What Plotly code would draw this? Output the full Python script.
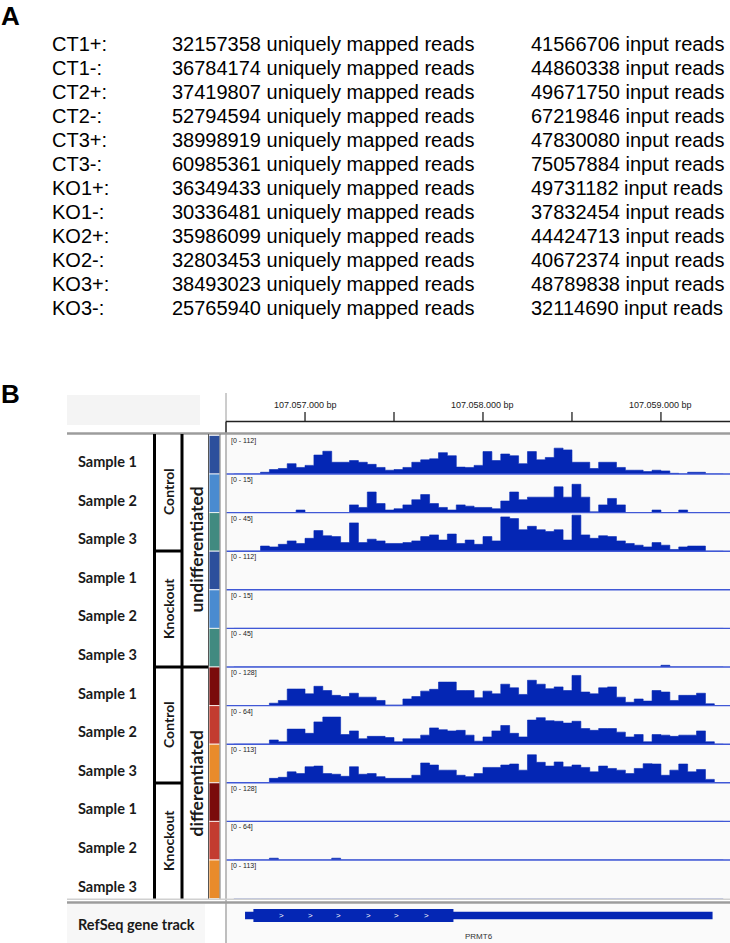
import plotly.graph_objects as go

# ---------------- Panel A data ----------------
samples = ["CT1+:", "CT1-:", "CT2+:", "CT2-:", "CT3+:", "CT3-:",
           "KO1+:", "KO1-:", "KO2+:", "KO2-:", "KO3+:", "KO3-:"]
unique_reads = [32157358, 36784174, 37419807, 52794594, 38998919, 60985361,
                36349433, 30336481, 35986099, 32803453, 38493023, 25765940]
input_reads = [41566706, 44860338, 49671750, 67219846, 47830080, 75057884,
               49731182, 37832454, 44424713, 40672374, 48789838, 32114690]

# ---------------- Panel B data ----------------
track_names = ["Sample 1", "Sample 2", "Sample 3"] * 4
data_ranges = [112, 15, 45, 112, 15, 45, 128, 64, 113, 128, 64, 113]
bin_start = 107056600
bin_size = 50

ctl_undiff_1 = [0,0,0,5,13,16,30,19,25,55, 66,34,34,39,34,28,19,11,13,19, 34,41,44,62,53,20,19,25,65,39,
                58,53,30,65,41,48,75,70,34,34, 16,34,34,19,11,11,7,11,9,2, 0,5,5,0,0]
ctl_undiff_2 = [0,0,0,0,0,0,0,1,0,0, 0,0,0,3,2,8,3.5,1,1.5,3, 5,7,3.5,2,1,3,2.5,2,2,1.5,
                4.5,8,5,6,6,6,10,6,11,6, 0.3,3,5.5,3,0,0,0,1,0,0, 1,0,0,0,0]
ctl_undiff_3 = [0,0,0,6,5,8,12,9,15,24, 18,17,10,33,10,14,12,9,9,10, 12,17,19,13,20,9,13,8,17,12,
                40,38,25,29,25,23,25,13,42,19, 15,18,17,12,9,7,5,10,7,2, 5,6,6,0,0]
ko_undiff_1 = [0,0,0,0,0,0,0,0,0,0, 0,0,0,0,0,0,0,0,0,0, 0,0,0,0,0,0,0,0,0,0,
               0,0,0,0,0,0,0,0,0,0, 0,0,0,0,0,0,0,0,0,0, 0,0,0,0,0]
ko_undiff_2 = [0,0,0,0,0,0,0,0,0,0, 0,0,0,0,0,0,0,0,0,0, 0,0,0,0,0,0,0,0,0,0,
               0,0,0,0,0,0,0,0,0,0, 0,0,0,0,0,0,0,0,0,0, 0,0,0,0,0]
ko_undiff_3 = [0,0,0,0,0,0,0,0,0,0, 0,0,0,0,0,0,0,0,0,0, 0,0,0,0,0,0,0,0,0,0,
               0,0,0,0,0,0,0,0,0,0, 0,0,0,0,0,0,0,0,2,0, 0,0,0,0,0]
ctl_diff_1 = [0,0,0,0,8,17,55,55,39,64, 50,34,30,41,28,28,17,2,2,22, 30,48,54,78,78,50,50,26,48,39,
              71,59,37,84,71,56,62,50,100,45, 39,59,62,28,11,22,15,50,45,17, 34,34,41,6,0]
ctl_diff_2 = [0,0,0,0,7,4,25,25,18,37, 45,45,16,22,9,13,13,11,4,9, 9,15,27,24,22,23,15,5,12,22,
              31,18,12,40,44,39,38,35,38,26, 23,26,26,20,12,16,4,16,15,13, 15,15,22,4,0]
ctl_diff_3 = [0,0,0,0,13,16,32,27,47,49, 27,25,19,47,25,27,18,13,13,13, 22,58,52,37,37,22,18,27,45,45,
              52,55,37,82,60,49,61,47,52,45, 32,49,42,37,27,42,56,55,22,37, 55,32,39,10,0]
ko_diff_1 = [0,0,0,0,0,0,0,0,0,0, 0,0,0,0,0,0,0,0,0,0, 0,0,0,0,0,0,0,0,0,0,
             0,0,0,0,0,0,0,0,0,0, 0,0,0,0,0,0,0,0,0,0, 0,0,0,0,0]
ko_diff_2 = [0,0,0,0,3,0,0,0,0,0, 0,3,0,0,0,0,0,0,0,0, 0,0,0,0,0,0,0,0,0,0,
             0,0,0,0,0,0,0,0,0,0, 0,0,0,0,0,0,0,0,0,0, 0,0,0,0,0]
ko_diff_3 = [0,0,0,0,0,0,0,0,0,0, 0,0,0,0,0,0,0,0,0,0, 0,0,0,0,0,0,0,0,0,0,
             0,0,0,0,0,0,0,0,0,0, 0,0,0,0,0,0,0,0,0,0, 0,0,0,0,0]
tracks = [ctl_undiff_1, ctl_undiff_2, ctl_undiff_3, ko_undiff_1, ko_undiff_2, ko_undiff_3,
          ctl_diff_1, ctl_diff_2, ctl_diff_3, ko_diff_1, ko_diff_2, ko_diff_3]

ruler_ticks = [107057000, 107057500, 107058000, 107058500, 107059000]
ruler_labels = {107057000: "107.057.000 bp", 107058000: "107.058.000 bp", 107059000: "107.059.000 bp"}
view_start, view_end = 107056556, 107059388
gene_name = "PRMT6"
gene_start, gene_end = 107056663, 107059290
cds_start, cds_end = 107056710, 107057834
chevron_pos = [107056869, 107057028, 107057187, 107057356, 107057515, 107057684]

# ---------------- layout helpers ----------------
W, H = 730, 943
def X(px): return px / W
def Y(py): return 1 - py / H

BLUE = "#0426b4"
LINE_BLUE = "#4058d6"
TEXT_FONT = "Liberation Sans"
LABEL_FONT = "Lato"

fig = go.Figure()
shapes = []
ann = []

def rect(x0, y0, x1, y1, fill, line_color=None, lw=0, layer="below"):
    shapes.append(dict(type="rect", xref="paper", yref="paper", x0=X(x0), x1=X(x1), y0=Y(y1), y1=Y(y0),
                       fillcolor=fill, line=dict(width=lw, color=line_color or fill), layer=layer))

def line(x0, y0, x1, y1, color, w):
    shapes.append(dict(type="line", xref="paper", yref="paper", x0=X(x0), x1=X(x1), y0=Y(y0), y1=Y(y1),
                       line=dict(color=color, width=w), layer="above"))

def text(t, x, y, size, family=TEXT_FONT, color="black", xanchor="left", angle=0, xref="paper", yanchor="middle"):
    ann.append(dict(text=t, x=(x if xref == "x" else X(x)), y=Y(y), xref=xref, yref="paper",
                    xanchor=xanchor, yanchor=yanchor, showarrow=False, textangle=angle,
                    font=dict(size=size, family=family, color=color), borderpad=0))

# ---------------- Panel A ----------------
text("<b>A</b>", 0, 0, 26, yanchor="top")
for i, (s, u, r) in enumerate(zip(samples, unique_reads, input_reads)):
    yc = 44 + 24 * i
    text(s, 51, yc, 20)
    text(f"{u} uniquely mapped reads", 171, yc, 20)
    text(f"{r} input reads", 530, yc, 20)

# ---------------- Panel B ----------------
text("<b>B</b>", 0, 394, 26)

# header
rect(67, 395, 200, 425, "#f4f4f4")
line(226, 393, 226, 421.5, "#9a9a9a", 1)
line(226, 421.5, 730, 421.5, "#222", 1.5)
line(226, 421.5, 226, 433, "#222", 1.5)
for g in ruler_ticks:
    shapes.append(dict(type="line", xref="x", yref="paper", x0=g, x1=g, y0=Y(412), y1=Y(421.5),
                       line=dict(color="#222", width=1.3), layer="above"))
    if g in ruler_labels:
        text(ruler_labels[g], g, 405, 9, color="#222", xanchor="center", xref="x")

# data area
rect(226, 434, 730, 898.6, "#fafafa")
TRACK_H = 38.6
first_bottom = 474.0
bar_colors = ["#2c4f9c", "#4a8bd0", "#418a80"] * 2 + ["#7a0b0b", "#c33c30", "#e98b2b"] * 2

for k, vals in enumerate(tracks):
    bottom = first_bottom + TRACK_H * k
    top = bottom - TRACK_H
    xs = [bin_start + bin_size * i for i in range(len(vals) + 1)]
    ys = list(vals) + [vals[-1]]
    yname = "y" if k == 0 else f"y{k+1}"
    fig.add_trace(go.Scatter(x=xs, y=ys, mode="lines", line=dict(shape="hv", width=0.6, color=BLUE),
                             fill="tozeroy", fillcolor=BLUE, xaxis="x", yaxis=yname,
                             showlegend=False, hoverinfo="skip"))
    fig.layout[f"yaxis{k+1}" if k else "yaxis"] = dict(domain=[Y(bottom), Y(top)], range=[0, data_ranges[k]],
                                                     visible=False, fixedrange=True, anchor="x")
    if k < 11:
        line(226, bottom, 730, bottom, LINE_BLUE, 1.4)
    text(f"[0 - {data_ranges[k]}]", 229.5, top + 6, 7, color="#222")
    rect(209, top, 220, bottom, bar_colors[k], "white", 0.8, layer="above")
    text(f"<b>{track_names[k]}</b>", 107, top + 26, 14.5, family=LABEL_FONT, color="#1a1a1a", xanchor="center")

line(226, 433, 226, 943, "#a8a8a8", 1.5)
line(67, 433.5, 730, 433.5, "#9c9c9c", 2.5)

# group columns
for xv in (154.5, 182):
    line(xv, 434, xv, 899, "#000", 3)
line(154.5, 551, 182, 551, "#000", 3)
line(154.5, 667, 209, 667, "#000", 3)
line(154.5, 783, 182, 783, "#000", 3)
line(208.5, 434, 208.5, 899, "#555", 1)
line(220, 434, 220, 899, "#777", 1)

for label, yc in (("Control", 492), ("Knockout", 609), ("Control", 725), ("Knockout", 841)):
    text(f"<b>{label}</b>", 168, yc, 14, family=LABEL_FONT, color="#1a1a1a", xanchor="center", angle=-90)
text("<b>undifferentiated</b>", 195.5, 550, 17.5, family=LABEL_FONT, color="#1a1a1a", xanchor="center", angle=-90)
text("<b>differentiated</b>", 195.5, 783, 17.5, family=LABEL_FONT, color="#1a1a1a", xanchor="center", angle=-90)

# bottom separators and gene track
line(67, 899.3, 730, 899.3, "#d0d0d0", 1.5)
line(67, 902.5, 730, 902.5, "#9c9c9c", 2.5)
rect(67, 904, 205, 943, "#f7f7f7")
rect(227, 904, 730, 943, "#fafafa")
text("<b>RefSeq gene track</b>", 77, 924, 14.5, family=LABEL_FONT, color="#1a1a1a")

shapes.append(dict(type="rect", xref="x", yref="paper", x0=gene_start, x1=gene_end, y0=Y(919.3), y1=Y(911.7),
                   fillcolor=BLUE, line=dict(width=0), layer="above"))
shapes.append(dict(type="rect", xref="x", yref="paper", x0=cds_start, x1=cds_end, y0=Y(922), y1=Y(909),
                   fillcolor=BLUE, line=dict(width=0), layer="above"))
for g in chevron_pos:
    text(">", g, 915.3, 8, color="white", xanchor="center", xref="x")
text(gene_name, (gene_start + gene_end) / 2, 936.5, 8, color="#333", xanchor="center", xref="x")

fig.update_layout(
    width=W, height=H, autosize=False,
    margin=dict(l=0, r=0, t=0, b=0, pad=0),
    paper_bgcolor="white", plot_bgcolor="rgba(0,0,0,0)",
    xaxis=dict(domain=[X(226), 1], range=[view_start, view_end], visible=False, fixedrange=True),
    shapes=shapes, annotations=ann, showlegend=False,
)

fig.write_html("out.html", config={"displayModeBar": False},
               post_script="document.body.style.margin='0';")
